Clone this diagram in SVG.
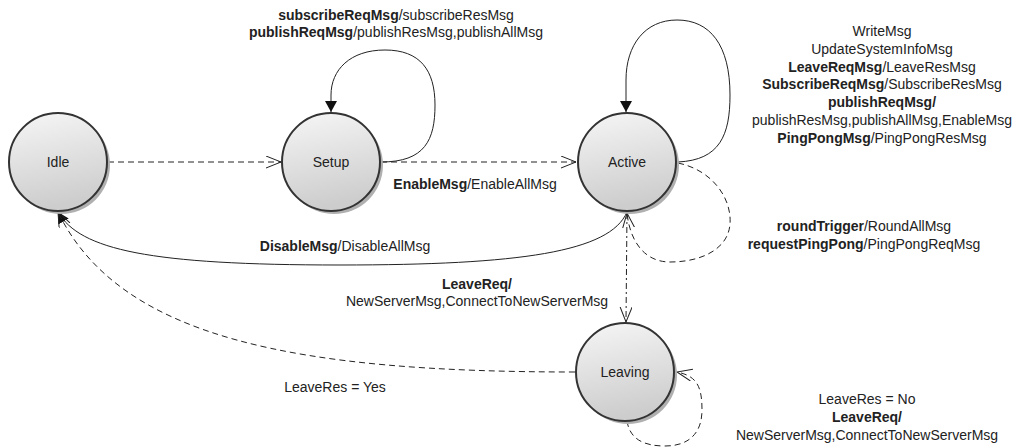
<svg xmlns="http://www.w3.org/2000/svg" width="1025" height="448" viewBox="0 0 1025 448">
<style>
text{font-family:"Liberation Sans",Arial,sans-serif;font-size:14px;fill:#222}
.b{font-weight:bold}
.c{text-anchor:middle}
.state{fill:url(#g);stroke:#333;stroke-width:2}
.shadow{fill:#b0b0b0}
.edge{fill:none;stroke:#222;stroke-width:1}
.dash{stroke-dasharray:6,4}
</style>
<defs>
<linearGradient id="g" x1="0" y1="0" x2="0.2" y2="1">
<stop offset="0" stop-color="#f6f6f6"/>
<stop offset="1" stop-color="#cdcdcd"/>
</linearGradient>
<marker id="fa" markerUnits="userSpaceOnUse" markerWidth="14" markerHeight="14" refX="11" refY="6" orient="auto">
<path d="M0,0 L11,6 L0,12 Z" fill="#111"/>
</marker>
<marker id="oa" markerUnits="userSpaceOnUse" markerWidth="18" markerHeight="14" refX="15" refY="6" orient="auto">
<path d="M0,0 L15,6 L0,12" fill="none" stroke="#222" stroke-width="1"/>
</marker>
</defs>
<g id="connectors">
<path class="edge dash" d="M108,162 L281,162" marker-end="url(#oa)"/>
<path class="edge dash" d="M381,162 L576,162" marker-end="url(#oa)"/>
<path class="edge" d="M381,162 C425,162 435,140 435,105 C435,70 420,50 385,50 C350,50 331,70 331,95 L331,112" marker-end="url(#fa)"/>
<path class="edge" d="M678,162 C720,160 730,135 730,95 C730,45 710,20 677,20 C645,20 626,45 626,80 L626,112" marker-end="url(#fa)"/>
<path class="edge dash" d="M678,163 C712,170 732,198 730,224 C728,250 700,262 670,262 C645,262 630,242 627,213" marker-end="url(#oa)"/>
<path class="edge" d="M627,212 C610,252 520,265 340,265 C150,265 80,250 58,212" marker-end="url(#fa)"/>
<path class="edge" stroke-dasharray="6,3,2,3" d="M627,213 L626,322" marker-end="url(#oa)"/>
<path class="edge dash" d="M575,372 C300,372 120,340 58,212" marker-end="url(#oa)"/>
<path class="edge dash" d="M627,421 C630,440 645,446 665,446 C690,446 702,432 702,410 C702,385 696,376 677,372" marker-end="url(#oa)"/>
</g>
<g id="node-idle">
<circle class="shadow" cx="61" cy="165" r="49"/>
<circle class="state" cx="58" cy="162" r="49"/>
<text class="c" x="58" y="167">Idle</text>
</g>
<g id="node-setup">
<circle class="shadow" cx="334" cy="165" r="49"/>
<circle class="state" cx="331" cy="162" r="49"/>
<text class="c" x="331" y="167">Setup</text>
</g>
<g id="node-active">
<circle class="shadow" cx="630" cy="165" r="49"/>
<circle class="state" cx="627" cy="162" r="49"/>
<text class="c" x="627" y="167">Active</text>
</g>
<g id="node-leaving">
<circle class="shadow" cx="628" cy="375" r="49"/>
<circle class="state" cx="625" cy="372" r="49"/>
<text class="c" x="625" y="377">Leaving</text>
</g>
<g id="labels">
<text class="c" x="396" y="20"><tspan class="b">subscribeReqMsg</tspan>/subscribeResMsg</text>
<text class="c" x="396" y="37"><tspan class="b">publishReqMsg</tspan>/publishResMsg,publishAllMsg</text>
<text class="c" x="475" y="189"><tspan class="b">EnableMsg</tspan>/EnableAllMsg</text>
<text class="c" x="882" y="36">WriteMsg</text>
<text class="c" x="882" y="54">UpdateSystemInfoMsg</text>
<text class="c" x="882" y="72"><tspan class="b">LeaveReqMsg</tspan>/LeaveResMsg</text>
<text class="c" x="882" y="89"><tspan class="b">SubscribeReqMsg</tspan>/SubscribeResMsg</text>
<text class="c" x="882" y="107"><tspan class="b">publishReqMsg/</tspan></text>
<text class="c" x="882" y="125">publishResMsg,publishAllMsg,EnableMsg</text>
<text class="c" x="882" y="143"><tspan class="b">PingPongMsg</tspan>/PingPongResMsg</text>
<text class="c" x="864" y="231"><tspan class="b">roundTrigger</tspan>/RoundAllMsg</text>
<text class="c" x="864" y="249"><tspan class="b">requestPingPong</tspan>/PingPongReqMsg</text>
<text class="c" x="345" y="251"><tspan class="b">DisableMsg</tspan>/DisableAllMsg</text>
<text class="c" x="477" y="289"><tspan class="b">LeaveReq/</tspan></text>
<text class="c" x="477" y="306">NewServerMsg,ConnectToNewServerMsg</text>
<text class="c" x="335" y="392">LeaveRes = Yes</text>
<text class="c" x="867" y="404">LeaveRes = No</text>
<text class="c" x="867" y="422"><tspan class="b">LeaveReq/</tspan></text>
<text class="c" x="867" y="440">NewServerMsg,ConnectToNewServerMsg</text>
</g>
</svg>
